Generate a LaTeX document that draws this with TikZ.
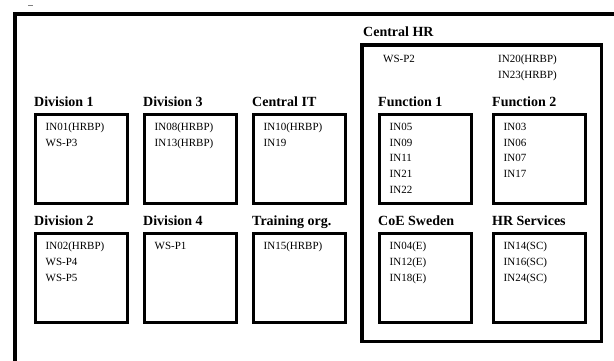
\documentclass[tikz,border=0pt]{standalone}
\usepackage{fontspec}
\setmainfont{Liberation Serif}
\usetikzlibrary{positioning}

\begin{document}
\begin{tikzpicture}[x=1pt,y=-1pt,node distance=14pt and 14pt,
  unit/.style={draw,line width=3pt,rectangle,minimum width=92pt,minimum height=89pt,inner sep=0pt},
  title/.style={font=\fontsize{14pt}{16pt}\selectfont\bfseries,inner sep=0pt,anchor=base west},
  staff/.style={font=\fontsize{11pt}{15.7pt}\selectfont,inner sep=0pt,align=left,anchor=north west}]
  \useasboundingbox (0,0) rectangle (614,360);
  % outer frame, cut off at right and bottom
  \draw[line width=4.3pt] (15,370) -- (15,14.2) -- (620,14.2);
  \draw[gray,line width=0.8pt] (28,5) -- (33,5);

  % Central HR
  \node[draw,line width=3.5pt,minimum width=239.5pt,minimum height=296.5pt,inner sep=0pt] (hr) at (481.5,193) {};
  \node[above right=7pt and 3pt of hr.north west, title] (hr-t) {Central HR};
  \node[below right=12pt and 23pt of hr.north west, staff] (hr-a) {WS-P2};
  \node[below right=12pt and 138pt of hr.north west, staff] (hr-b) {IN20(HRBP)\\IN23(HRBP)};

  % first row
  \node[unit] (div1) at (81.5,159) {};
  \node[unit] (div3) [right=of div1] {};
  \node[unit] (it) [right=of div3] {};
  \node[unit] (fun1) [right=31pt of it] {};
  \node[unit] (fun2) [right=19pt of fun1] {};
  % second row
  \node[unit] (div2) [below=27pt of div1] {};
  \node[unit] (div4) [below=27pt of div3] {};
  \node[unit] (train) [below=27pt of it] {};
  \node[unit] (coe) [below=27pt of fun1] {};
  \node[unit] (hrs) [below=27pt of fun2] {};

  % titles
  \node[above right=7pt and 0pt of div1.north west, title] {Division 1};
  \node[above right=7pt and 0pt of div3.north west, title] {Division 3};
  \node[above right=7pt and 0pt of it.north west, title] {Central IT};
  \node[above right=7pt and 0pt of fun1.north west, title] {Function 1};
  \node[above right=7pt and 0pt of fun2.north west, title] {Function 2};
  \node[above right=7pt and 0pt of div2.north west, title] {Division 2};
  \node[above right=7pt and 0pt of div4.north west, title] {Division 4};
  \node[above right=7pt and 0pt of train.north west, title] {Training org.};
  \node[above right=7pt and 0pt of coe.north west, title] {CoE Sweden};
  \node[above right=7pt and 0pt of hrs.north west, title] {HR Services};

  % staff
  \node[below right=10pt and 11.5pt of div1.north west, staff] {IN01(HRBP)\\WS-P3};
  \node[below right=10pt and 11.5pt of div3.north west, staff] {IN08(HRBP)\\IN13(HRBP)};
  \node[below right=10pt and 11.5pt of it.north west, staff] {IN10(HRBP)\\IN19};
  \node[below right=10pt and 11.5pt of fun1.north west, staff] {IN05\\IN09\\IN11\\IN21\\IN22};
  \node[below right=10pt and 11.5pt of fun2.north west, staff] {IN03\\IN06\\IN07\\IN17};
  \node[below right=10pt and 11.5pt of div2.north west, staff] {IN02(HRBP)\\WS-P4\\WS-P5};
  \node[below right=10pt and 11.5pt of div4.north west, staff] {WS-P1};
  \node[below right=10pt and 11.5pt of train.north west, staff] {IN15(HRBP)};
  \node[below right=10pt and 11.5pt of coe.north west, staff] {IN04(E)\\IN12(E)\\IN18(E)};
  \node[below right=10pt and 11.5pt of hrs.north west, staff] {IN14(SC)\\IN16(SC)\\IN24(SC)};
\end{tikzpicture}
\end{document}
